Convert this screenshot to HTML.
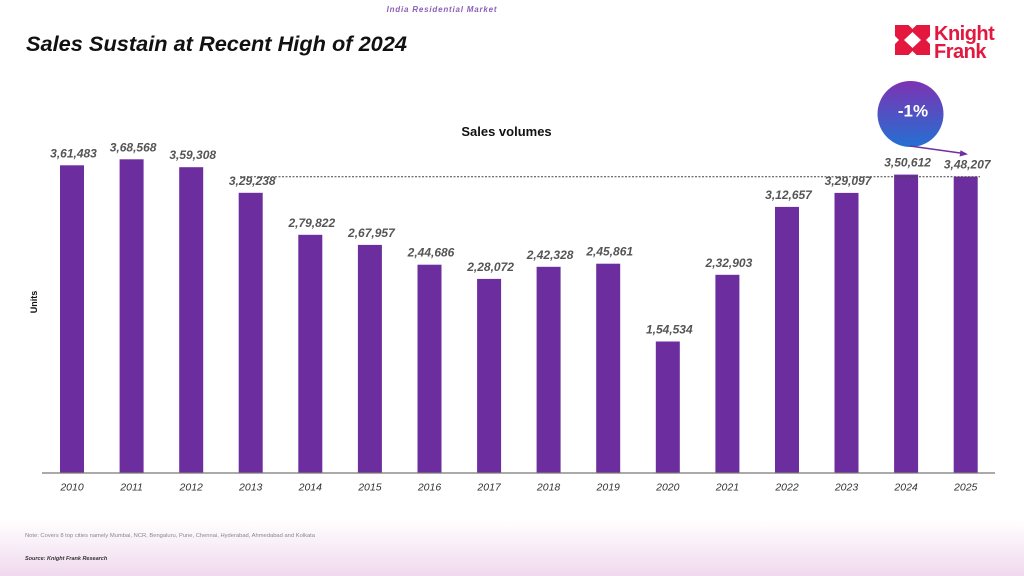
<!DOCTYPE html>
<html><head><meta charset="utf-8"><style>
html,body{margin:0;padding:0;background:#fff;}
svg{display:block;}
</style></head><body>
<svg width="1024" height="576" viewBox="0 0 1024 576" xmlns="http://www.w3.org/2000/svg" font-family="Liberation Sans, Arial, sans-serif">
<defs>
<linearGradient id="foot" x1="0" y1="0" x2="0" y2="1">
<stop offset="0" stop-color="#ffffff"/>
<stop offset="1" stop-color="#f0d9ee"/>
</linearGradient>
<linearGradient id="circ" x1="0" y1="0" x2="0" y2="1">
<stop offset="0" stop-color="#7d33b3"/>
<stop offset="1" stop-color="#2470d2"/>
</linearGradient>
</defs>
<rect x="0" y="0" width="1024" height="576" fill="#fff"/>
<rect x="0" y="520" width="1024" height="56" fill="url(#foot)"/>

<text x="442" y="12" text-anchor="middle" font-size="8" font-weight="bold" font-style="italic" fill="#8b5fb8" letter-spacing="0.8">India Residential Market</text>
<text x="26" y="51" font-size="21" font-weight="bold" font-style="italic" fill="#111" textLength="381" lengthAdjust="spacingAndGlyphs">Sales Sustain at Recent High of 2024</text>

<!-- logo -->
<g transform="translate(895,25)">
<rect x="0" y="0" width="35" height="30" fill="#e4173e"/>
<polygon points="17.5,7 26,15 17.5,23 9,15" fill="#fff"/>
<polygon points="13.5,0 21.5,0 17.5,4" fill="#fff"/>
<polygon points="13.5,30 21.5,30 17.5,26" fill="#fff"/>
<polygon points="0,11 0,19 4,15" fill="#fff"/>
<polygon points="35,11 35,19 31,15" fill="#fff"/>
</g>
<text x="934" y="40" font-size="20" font-weight="bold" fill="#e4173e" letter-spacing="-0.5">Knight</text>
<text x="934" y="58" font-size="20" font-weight="bold" fill="#e4173e" letter-spacing="-0.5">Frank</text>

<text x="506.5" y="136" text-anchor="middle" font-size="13" font-weight="bold" fill="#111">Sales volumes</text>
<text transform="translate(37,302) rotate(-90)" text-anchor="middle" font-size="9" font-weight="bold" fill="#111">Units</text>

<!-- bars -->
<g fill="#6c2d9f">
<rect x="60" y="165.3" width="24" height="307.7"/>
<rect x="119.6" y="159.3" width="24" height="313.7"/>
<rect x="179.2" y="167.2" width="24" height="305.8"/>
<rect x="238.7" y="192.8" width="24" height="280.2"/>
<rect x="298.3" y="234.8" width="24" height="238.2"/>
<rect x="357.9" y="244.9" width="24" height="228.1"/>
<rect x="417.5" y="264.7" width="24" height="208.3"/>
<rect x="477.1" y="278.9" width="24" height="194.1"/>
<rect x="536.6" y="266.8" width="24" height="206.2"/>
<rect x="596.2" y="263.7" width="24" height="209.3"/>
<rect x="655.8" y="341.5" width="24" height="131.5"/>
<rect x="715.4" y="274.8" width="24" height="198.2"/>
<rect x="775" y="206.9" width="24" height="266.1"/>
<rect x="834.5" y="192.9" width="24" height="280.1"/>
<rect x="894.1" y="174.6" width="24" height="298.4"/>
<rect x="953.7" y="176.6" width="24" height="296.4"/>
</g>

<line x1="240" y1="176.7" x2="980" y2="176.7" stroke="#444" stroke-width="1" stroke-dasharray="2,1.5"/>
<line x1="42" y1="473" x2="995" y2="473" stroke="#777" stroke-width="1.2"/>

<!-- value labels -->
<g font-size="12" font-weight="bold" font-style="italic" fill="#555" text-anchor="middle">
<text x="73.5" y="157.3">3,61,483</text>
<text x="133.1" y="151.3">3,68,568</text>
<text x="192.7" y="159.2">3,59,308</text>
<text x="252.2" y="184.8">3,29,238</text>
<text x="311.8" y="226.8">2,79,822</text>
<text x="371.4" y="236.9">2,67,957</text>
<text x="431" y="256.7">2,44,686</text>
<text x="490.6" y="270.9">2,28,072</text>
<text x="550.1" y="258.8">2,42,328</text>
<text x="609.7" y="255.7">2,45,861</text>
<text x="669.3" y="333.5">1,54,534</text>
<text x="728.9" y="266.8">2,32,903</text>
<text x="788.5" y="198.9">3,12,657</text>
<text x="848" y="184.9">3,29,097</text>
<text x="907.6" y="166.6">3,50,612</text>
<text x="967.2" y="168.6">3,48,207</text>
</g>

<!-- year labels -->
<g font-size="10.5" font-style="italic" fill="#333" text-anchor="middle">
<text x="72" y="490.5">2010</text>
<text x="131.6" y="490.5">2011</text>
<text x="191.2" y="490.5">2012</text>
<text x="250.7" y="490.5">2013</text>
<text x="310.3" y="490.5">2014</text>
<text x="369.9" y="490.5">2015</text>
<text x="429.5" y="490.5">2016</text>
<text x="489.1" y="490.5">2017</text>
<text x="548.6" y="490.5">2018</text>
<text x="608.2" y="490.5">2019</text>
<text x="667.8" y="490.5">2020</text>
<text x="727.4" y="490.5">2021</text>
<text x="787" y="490.5">2022</text>
<text x="846.5" y="490.5">2023</text>
<text x="906.1" y="490.5">2024</text>
<text x="965.7" y="490.5">2025</text>
</g>

<!-- circle callout -->
<circle cx="910.5" cy="114" r="33" fill="url(#circ)"/>
<text x="913" y="116.5" text-anchor="middle" font-size="17" font-weight="bold" fill="#fff">-1%</text>
<line x1="910" y1="146" x2="962" y2="153.3" stroke="#7030a0" stroke-width="1.5"/>
<polygon points="968,154.2 960.5,150.3 959.6,156.5" fill="#7030a0"/>

<text x="25" y="537" font-size="5.5" fill="#888" textLength="290" lengthAdjust="spacingAndGlyphs">Note: Covers 8 top cities namely Mumbai, NCR, Bengaluru, Pune, Chennai, Hyderabad, Ahmedabad and Kolkata</text>
<text x="25" y="560" font-size="5.5" font-weight="bold" font-style="italic" fill="#333">Source: Knight Frank Research</text>
</svg>
</body></html>
